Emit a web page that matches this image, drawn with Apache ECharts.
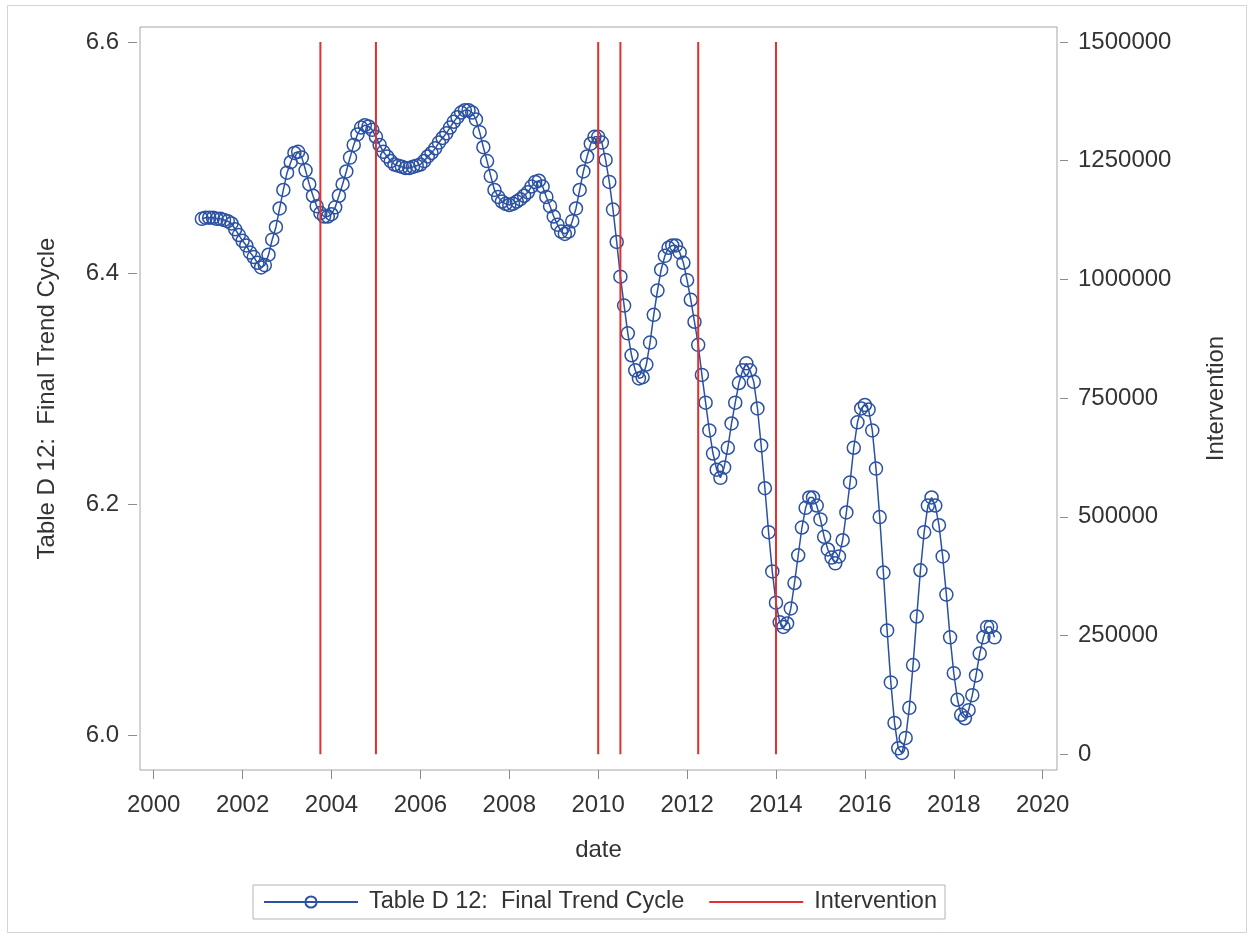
<!DOCTYPE html>
<html>
<head>
<meta charset="utf-8">
<title>Table D 12: Final Trend Cycle</title>
<script src="https://cdn.jsdelivr.net/npm/echarts@6/dist/echarts.min.js"></script>
<style>
  html, body { margin: 0; padding: 0; background: #ffffff; }
  #chart { width: 1251px; height: 937px; }
</style>
</head>
<body>
<div id="chart"></div>
<script>
// Monthly series, first observation February 2001, last December 2018
const START_YEAR = 2001;
const START_MONTH = 2;

// Table D 12: Final Trend Cycle (one row per calendar year)
const trendCycle = [
  /* 2001 */ 6.447, 6.448, 6.448, 6.448, 6.447, 6.447, 6.446, 6.445, 6.443, 6.438, 6.433,
  /* 2002 */ 6.428, 6.424, 6.418, 6.414, 6.409, 6.405, 6.407, 6.416, 6.429, 6.440, 6.456, 6.472,
  /* 2003 */ 6.487, 6.496, 6.504, 6.505, 6.500, 6.489, 6.477, 6.467, 6.458, 6.452, 6.449, 6.449,
  /* 2004 */ 6.451, 6.457, 6.467, 6.477, 6.488, 6.500, 6.511, 6.520, 6.526, 6.528, 6.527, 6.524,
  /* 2005 */ 6.518, 6.511, 6.505, 6.501, 6.497, 6.494, 6.493, 6.492, 6.491, 6.491, 6.492, 6.493,
  /* 2006 */ 6.494, 6.497, 6.501, 6.504, 6.508, 6.513, 6.517, 6.521, 6.526, 6.531, 6.535, 6.539,
  /* 2007 */ 6.541, 6.541, 6.539, 6.533, 6.522, 6.509, 6.497, 6.484, 6.472, 6.466, 6.462, 6.460,
  /* 2008 */ 6.459, 6.460, 6.462, 6.464, 6.467, 6.470, 6.475, 6.479, 6.480, 6.475, 6.466, 6.458,
  /* 2009 */ 6.449, 6.442, 6.436, 6.434, 6.436, 6.445, 6.456, 6.472, 6.488, 6.501, 6.512, 6.518,
  /* 2010 */ 6.518, 6.513, 6.498, 6.479, 6.455, 6.427, 6.397, 6.372, 6.348, 6.329, 6.316, 6.309,
  /* 2011 */ 6.310, 6.321, 6.340, 6.364, 6.385, 6.403, 6.415, 6.422, 6.424, 6.424, 6.418, 6.409,
  /* 2012 */ 6.394, 6.377, 6.358, 6.338, 6.312, 6.288, 6.264, 6.244, 6.230, 6.223, 6.232, 6.249,
  /* 2013 */ 6.270, 6.288, 6.305, 6.316, 6.322, 6.316, 6.306, 6.283, 6.251, 6.214, 6.176, 6.142,
  /* 2014 */ 6.115, 6.098, 6.094, 6.097, 6.110, 6.132, 6.156, 6.180, 6.197, 6.206, 6.206, 6.199,
  /* 2015 */ 6.187, 6.172, 6.161, 6.154, 6.149, 6.155, 6.169, 6.193, 6.219, 6.249, 6.271, 6.283,
  /* 2016 */ 6.286, 6.282, 6.264, 6.231, 6.189, 6.141, 6.091, 6.046, 6.011, 5.989, 5.985, 5.998,
  /* 2017 */ 6.024, 6.061, 6.103, 6.143, 6.176, 6.199, 6.206, 6.199, 6.182, 6.155, 6.122, 6.085,
  /* 2018 */ 6.054, 6.031, 6.018, 6.015, 6.022, 6.035, 6.052, 6.071, 6.085, 6.094, 6.094, 6.085
];

// Intervention dates (decimal years) and the intervention variable value
const interventionDates = [2003.75, 2005.0, 2010.0, 2010.5, 2012.25, 2014.0];
const interventionValues = [1500000, 1500000, 1500000, 1500000, 1500000, 1500000];

// Axis tick values
const dateTicks = [2000, 2002, 2004, 2006, 2008, 2010, 2012, 2014, 2016, 2018, 2020];
const trendTicks = [6.0, 6.2, 6.4, 6.6];
const interventionTicks = [0, 250000, 500000, 750000, 1000000, 1250000, 1500000];

// Monthly dates as decimal years
function monthDate(i) {
  const idx = START_MONTH - 1 + i;
  return START_YEAR + Math.floor(idx / 12) + (idx % 12) / 12;
}
const trendData = trendCycle.map((v, i) => [monthDate(i), v]);

// Each intervention is a vertical needle from 0 up to its value; null breaks the path
const interventionData = [];
interventionDates.forEach((d, i) => {
  interventionData.push([d, 0], [d, interventionValues[i]], [d, null]);
});

const FONT = '"Liberation Sans", Arial, Helvetica, sans-serif';
const TEXT = '#333333';
const TICK = '#8c8c8c';
const BLUE = '#2b51a2';
const RED = '#e2302c';

const chart = echarts.init(document.getElementById('chart'), null, { renderer: 'canvas' });

chart.setOption({
  backgroundColor: '#ffffff',
  animation: false,
  textStyle: { fontFamily: FONT },
  graphic: [{
    type: 'rect',
    shape: { x: 7.5, y: 5.5, width: 1239, height: 927 },
    style: { fill: 'none', stroke: '#d4d4d4', lineWidth: 1 },
    silent: true,
    z: -10
  }],
  grid: {
    left: 140, top: 27, width: 917, height: 743,
    show: true, borderColor: '#a6a6a6', borderWidth: 1,
    backgroundColor: 'transparent'
  },
  legend: {
    left: 253, top: 885,
    orient: 'horizontal',
    itemWidth: 94, itemHeight: 14, itemGap: 24,
    padding: [5, 8, 5, 10],
    borderColor: '#b4b4b4', borderWidth: 1,
    textStyle: { fontFamily: FONT, fontSize: 23.5, color: TEXT, padding: [0, 0, 0, 6] },
    data: [
      { name: 'Table D 12:  Final Trend Cycle' },
      { name: 'Intervention', itemStyle: { opacity: 0, color: 'rgba(0,0,0,0)', borderWidth: 0 } }
    ]
  },
  xAxis: {
    type: 'value',
    min: 1999.692, max: 2020.322,
    name: 'date', nameLocation: 'middle', nameGap: 68,
    nameTextStyle: { fontFamily: FONT, fontSize: 24, color: TEXT },
    axisLine: { show: false, onZero: false },
    splitLine: { show: false },
    axisTick: { show: true, customValues: dateTicks, length: 9, lineStyle: { color: TICK, width: 1 } },
    axisLabel: { customValues: dateTicks, margin: 23, fontFamily: FONT, fontSize: 24, color: TEXT,
      formatter: v => String(v) }
  },
  yAxis: [{
    type: 'value', position: 'left', offset: 3,
    min: 5.97024, max: 6.61298,
    name: 'Table D 12:  Final Trend Cycle', nameLocation: 'middle', nameGap: 78, nameRotate: 90,
    nameTextStyle: { fontFamily: FONT, fontSize: 24, color: TEXT },
    axisLine: { show: false, onZero: false },
    splitLine: { show: false },
    axisTick: { show: true, customValues: trendTicks, length: 9, lineStyle: { color: TICK, width: 1 } },
    axisLabel: { customValues: trendTicks, margin: 18, fontFamily: FONT, fontSize: 24, color: TEXT,
      formatter: v => Number(v).toFixed(1) }
  }, {
    type: 'value', position: 'right', offset: 3,
    min: -33062, max: 1531588,
    name: 'Intervention', nameLocation: 'middle', nameGap: 144, nameRotate: 90,
    nameTextStyle: { fontFamily: FONT, fontSize: 24, color: TEXT },
    axisLine: { show: false, onZero: false },
    splitLine: { show: false },
    axisTick: { show: true, customValues: interventionTicks, length: 8, lineStyle: { color: TICK, width: 1 } },
    axisLabel: { customValues: interventionTicks, margin: 18, fontFamily: FONT, fontSize: 24, color: TEXT,
      formatter: v => String(v) }
  }],
  series: [{
    name: 'Table D 12:  Final Trend Cycle',
    type: 'line',
    xAxisIndex: 0, yAxisIndex: 0,
    data: trendData,
    symbol: 'circle', symbolSize: 13, showAllSymbol: true,
    lineStyle: { color: BLUE, width: 1.5 },
    itemStyle: { color: 'rgba(255,255,255,0)', borderColor: BLUE, borderWidth: 1.5 },
    emphasis: { disabled: true },
    z: 2
  }, {
    name: 'Intervention',
    type: 'line',
    xAxisIndex: 0, yAxisIndex: 1,
    data: interventionData,
    connectNulls: false,
    symbol: 'none',
    lineStyle: { color: RED, width: 2 },
    itemStyle: { color: RED },
    emphasis: { disabled: true },
    z: 3
  }]
});
</script>
</body>
</html>
